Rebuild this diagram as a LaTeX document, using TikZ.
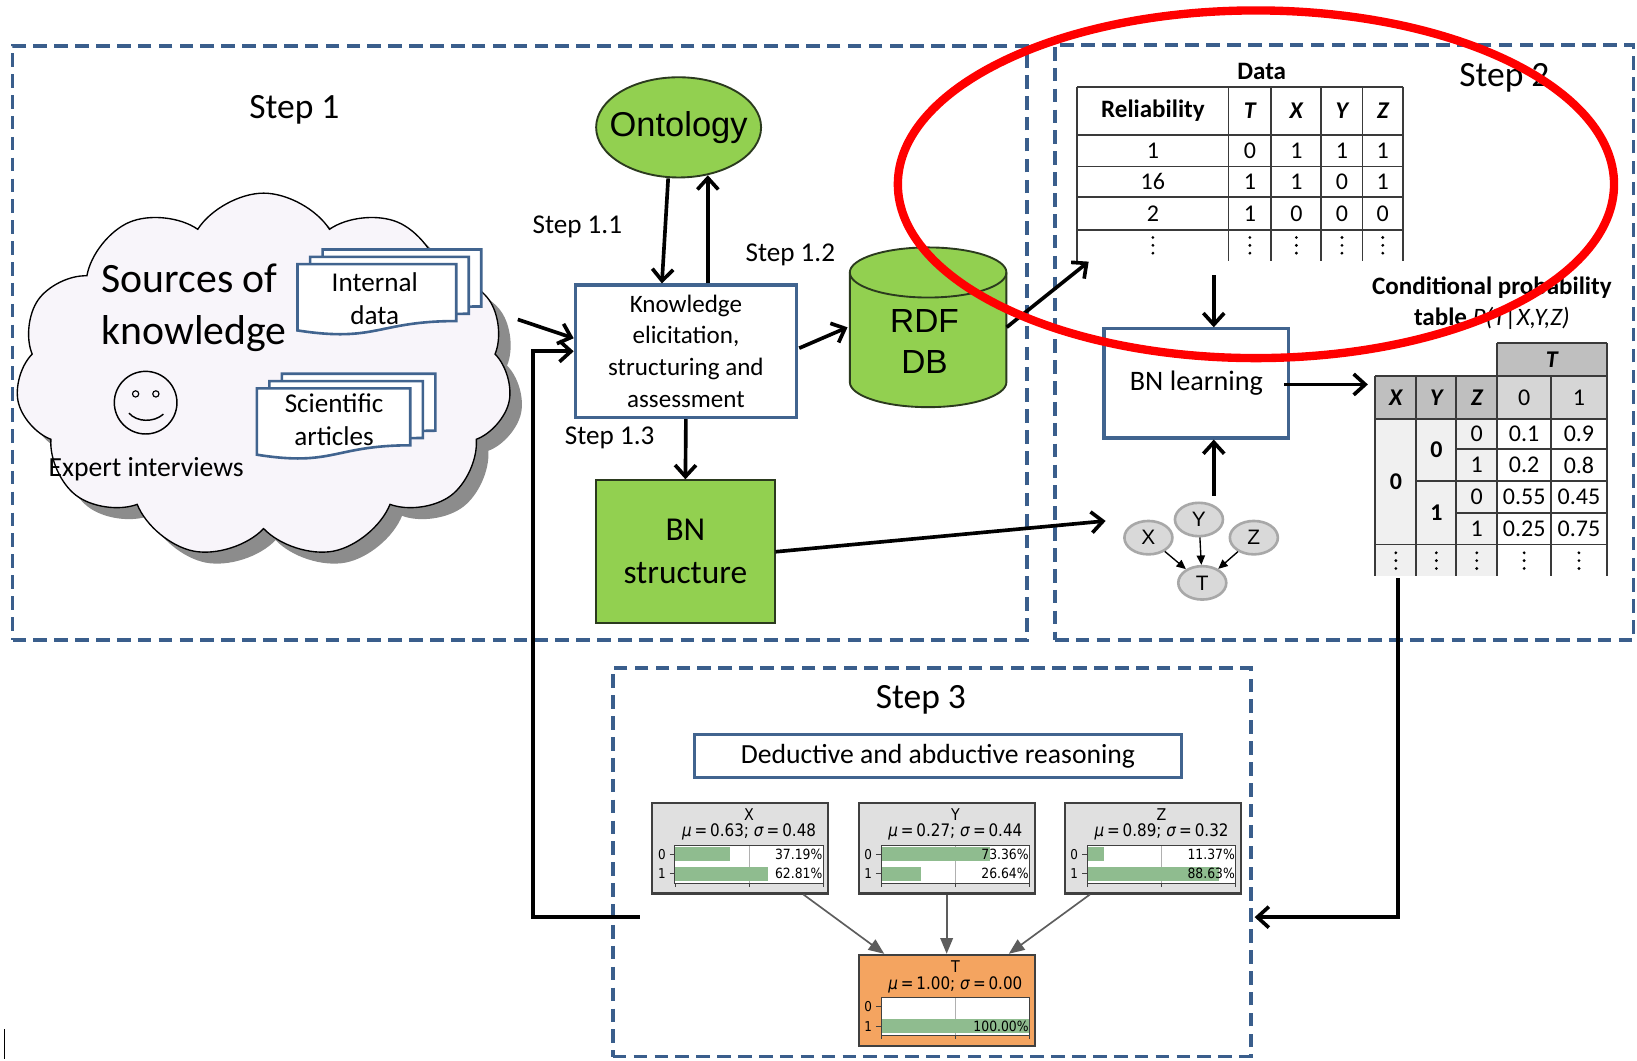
\documentclass[tikz,border=0pt]{standalone}
\usepackage{fontspec}
\setmainfont{Carlito}
\newfontfamily\arialf{Liberation Sans}
\newfontfamily\mplf[FakeStretch=0.88]{DejaVu Sans}
\usetikzlibrary{shapes.symbols,shapes.geometric,arrows.meta,calc}
\definecolor{dashblue}{HTML}{3A5E8C}
\definecolor{boxblue}{HTML}{41648F}
\definecolor{lgreen}{HTML}{92D050}
\definecolor{gborder}{HTML}{2B3A1E}
\definecolor{cloudfill}{HTML}{F8F5FA}
\definecolor{cloudshadow}{HTML}{8C8C8C}
\definecolor{cptdark}{HTML}{BFBFBF}
\definecolor{cptmid}{HTML}{D6D6D6}
\definecolor{cptlight}{HTML}{F0F0F0}
\definecolor{tabline}{HTML}{3A3A3A}
\definecolor{gnode}{HTML}{D9D9D9}
\definecolor{gnodeb}{HTML}{A8A8A8}
\definecolor{pfill}{HTML}{E0E0E0}
\definecolor{pborder}{HTML}{404040}
\definecolor{torange}{HTML}{F4A460}
\definecolor{bargreen}{HTML}{8FBC8F}
\definecolor{gridc}{HTML}{B0B0B0}
\definecolor{redring}{HTML}{FF0000}
\newcommand\fsz[2]{\fontsize{#1}{#2}\selectfont}
\newcommand\drawdoc[4]{%
  \filldraw[docsty] ({#1},{#2}) -- ({#1+#3},{#2}) -- ({#1+#3},{#2+0.802*#4})
    .. controls ({#1+0.5*#3},{#2+0.802*#4}) and ({#1+0.5*#3},{#2+1.107*#4}) .. ({#1},{#2+0.934*#4}) -- cycle;}
\newcommand\docstack[4]{\drawdoc{#1+24}{#2-14}{#3}{#4}\drawdoc{#1+12}{#2-7}{#3}{#4}\drawdoc{#1}{#2}{#3}{#4}}
\newcommand\vdt[2]{\foreach \k in {-1,0,1} {\fill ({#1},{#2+\k*7.5}) circle (1.5pt);}}
% probability node: name, x0, y0, fill, title, mu, sigma, p0, p1
\newcommand\pnode[9]{%
  \node[pbox, fill=#4] (#1) at ({#2+84.25},{#3+43.5}) {};
  \fill[white] ({#2+21.6},{#3+41}) rectangle ({#2+163.6},{#3+77});
  \draw[gridc, line width=0.8pt] ({#2+92.6},{#3+41}) -- ({#2+92.6},{#3+77});
  \fill[bargreen] ({#2+21.6},{#3+42.5}) rectangle ({#2+21.6+1.42*#8},{#3+56.3});
  \fill[bargreen] ({#2+21.6},{#3+61.3}) rectangle ({#2+21.6+1.42*#9},{#3+75.1});
  \draw[pborder, line width=0.9pt] ({#2+21.6},{#3+41}) rectangle ({#2+163.6},{#3+77});
  \draw[pborder, line width=0.8pt] ({#2+16.5},{#3+49.4}) -- ({#2+21.6},{#3+49.4});
  \draw[pborder, line width=0.8pt] ({#2+16.5},{#3+68.2}) -- ({#2+21.6},{#3+68.2});
  \foreach \tx in {21.6,92.6,163.6} {\draw[pborder, line width=0.8pt] ({#2+\tx},{#3+77}) -- ({#2+\tx},{#3+80.5});}
  \node[inner sep=0pt, font=\mplf\fsz{15.5}{17}] (#1title) at ({#2+92.6},{#3+11.5}) {#5};
  \node[inner sep=0pt, font=\mplf\fsz{16.5}{18}] (#1mu) at ({#2+92.6},{#3+28.5}) {\textit{μ}\,=\,#6; \textit{σ}\,=\,#7};
  \node[inner sep=0pt, anchor=east, font=\mplf\fsz{13.5}{15}] (#1pa) at ({#2+163},{#3+49.4}) {\ifdim#8pt>0pt #8\%\fi};
  \node[inner sep=0pt, anchor=east, font=\mplf\fsz{13.5}{15}] (#1pb) at ({#2+163},{#3+68.2}) {#9\%};
  \node[inner sep=0pt, font=\mplf\fsz{13}{15}] (#1la) at ({#2+9},{#3+49.4}) {0};
  \node[inner sep=0pt, font=\mplf\fsz{13}{15}] (#1lb) at ({#2+9},{#3+68.2}) {1};
}
\begin{document}
\begin{tikzpicture}[x=1pt,y=-1pt,
  dashbox/.style={draw=dashblue, line width=3.5pt, dash pattern=on 13pt off 7pt, inner sep=0pt},
  bluebox/.style={draw=boxblue, line width=3pt, fill=white, inner sep=2pt, align=center},
  greensty/.style={fill=lgreen, draw=gborder, line width=1.8pt},
  docsty/.style={fill=white, draw=boxblue, line width=2.5pt},
  arr/.style={line width=3.5pt, -{Straight Barb[length=11pt,width=20pt]}},
  tabl/.style={draw=tabline, line width=1.8pt},
  gn/.style={ellipse, fill=gnode, draw=gnodeb, line width=2.5pt, minimum width=46pt, minimum height=32pt, inner sep=0pt, font=\arialf\fsz{20}{22}},
  sarr/.style={line width=1.3pt, -{Triangle[length=9pt,width=8pt]}},
  pbox/.style={draw=pborder, line width=2pt, minimum width=168.5pt, minimum height=87pt, inner sep=0pt},
  garr/.style={draw=pborder!85, line width=1.6pt, -{Triangle[length=15pt,width=12pt]}},
  lbl/.style={inner sep=0pt},
  cloudsty/.style={cloud, cloud puffs=11, cloud puff arc=115, cloud ignores aspect, minimum width=475pt, minimum height=350pt}
]
\useasboundingbox (0,0) rectangle (1568,1016);
\fill[white] (0,0) rectangle (1568,1016);

% ---------- step boxes ----------
\node[dashbox, minimum width=972pt, minimum height=569pt] (s1) at (498,328.5) {};
\node[dashbox, minimum width=554pt, minimum height=570pt] (s2) at (1287.5,328) {};
\node[dashbox, minimum width=611pt, minimum height=372pt] (s3) at (892.5,826) {};
\node[font=\fsz{34}{40}] (t1) at (282,105) {Step 1};
\node[font=\fsz{34}{40}] (t2) at (1441,75) {Step 2};
\node[font=\fsz{34}{40}] (t3) at (882,670) {Step 3};

% ---------- cloud ----------
\node[cloudsty, fill=cloudshadow] (cloudsh) at (264,371) {};
\node[cloudsty, fill=cloudfill, draw=black, line width=1.3pt] (cloud) at (252.5,360) {};
\node[anchor=west, font=\fsz{40}{50}, align=left, inner sep=0pt] (src) at (97,295) {Sources of\\knowledge};
\docstack{285}{253}{152}{68}
\node[font=\fsz{26}{31}, align=center, inner sep=0pt] (intd) at (359,286) {Internal\\data};
\docstack{246}{372}{147}{68}
\node[font=\fsz{26}{32}, align=center, inner sep=0pt] (scia) at (320,402) {Scientific\\articles};
\node[circle, draw=black, line width=1.4pt, minimum size=60pt, inner sep=0pt] (smile) at (139.5,385.7) {};
\draw[line width=1.1pt] (129.9,377.3) circle (3pt) (149.3,377.3) circle (3pt);
\draw[line width=1.4pt] ($(smile)+(-16,10)$) .. controls ($(smile)+(-8,19)$) and ($(smile)+(8,19)$) .. ($(smile)+(17,11)$);
\node[font=\fsz{26.5}{30}, inner sep=0pt] (expi) at (140,449) {Expert interviews};

% ---------- step 1 boxes ----------
\node[ellipse, greensty, minimum width=158pt, minimum height=96pt, inner sep=0pt] (onto) at (650,122) {};
\node[font=\arialf\fsz{33}{36}, inner sep=0pt] (ontot) at (650,122) {Ontology};
\node[bluebox, minimum width=212pt, minimum height=127pt, font=\fsz{24}{30.5}] (kn) at (657,336.5) {Knowledge\\elicitation,\\structuring and\\assessment};
\node[greensty, minimum width=171pt, minimum height=137pt, align=center, inner sep=0pt, font=\fsz{32}{41}] (bns) at (656.5,528.5) {BN\\structure};
% RDF cylinder
\node[minimum width=150pt, minimum height=153pt, inner sep=0pt] (rdf) at (889,313.5) {};
\filldraw[greensty] (814,261) -- (814,366) arc[start angle=180, end angle=360, x radius=75pt, y radius=24pt] -- (964,261) arc[start angle=0, end angle=180, x radius=75pt, y radius=24pt] -- cycle;
\draw[draw=gborder, line width=1.8pt] (814,261) arc[start angle=180, end angle=360, x radius=75pt, y radius=24pt];
\node[font=\arialf\fsz{32}{39}, align=center, inner sep=0pt] (rdft) at (885.5,327) {RDF\\DB};
\node[font=\fsz{26}{30}, inner sep=0pt] (st11) at (553,217) {Step 1.1};
\node[font=\fsz{26}{30}, inner sep=0pt] (st12) at (757,244) {Step 1.2};
\node[font=\fsz{26}{30}, inner sep=0pt] (st13) at (584,419) {Step 1.3};

% ---------- data table ----------
\node[inner sep=0pt, minimum width=312pt, minimum height=167.4pt] (dtab) at (1188,166.7) {};
\node[font=\bfseries\fsz{24}{28}, inner sep=0pt] (dtitle) at (1208.5,68.6) {Data};
\foreach \yy in {83,129.2,159.5,188.8,220} {\draw[tabl] (1032,\yy) -- (1344,\yy);}
\foreach \xx in {1032,1176.7,1217.6,1265.7,1305,1344} {\draw[tabl] (\xx,83) -- (\xx,250.4);}
\begin{scope}[every node/.style={inner sep=0pt, font=\fsz{23}{26}}]
\node[font=\bfseries\fsz{24}{26}] (hrel) at (1104.3,106) {Reliability};
\node[font=\bfseries\itshape\fsz{23}{26}] (hT) at (1197.2,106) {T};
\node[font=\bfseries\itshape\fsz{23}{26}] (hX) at (1241.7,106) {X};
\node[font=\bfseries\itshape\fsz{23}{26}] (hY) at (1285.4,106) {Y};
\node[font=\bfseries\itshape\fsz{23}{26}] (hZ) at (1324.5,106) {Z};
\foreach \yy/\a/\b/\c/\d/\e [count=\i] in {144.4/1/0/1/1/1, 174.2/16/1/1/0/1, 204.4/2/1/0/0/0} {
  \node (dr\i a) at (1104.3,\yy) {\a};
  \node (dr\i b) at (1197.2,\yy) {\b};
  \node (dr\i c) at (1241.7,\yy) {\c};
  \node (dr\i d) at (1285.4,\yy) {\d};
  \node (dr\i e) at (1324.5,\yy) {\e};
}
\end{scope}
\foreach \xx in {1104.3,1197.2,1241.7,1285.4,1324.5} {\vdt{\xx}{235}}

% ---------- BN learning & small graph ----------
\node[bluebox, minimum width=177pt, minimum height=104.5pt, font=\fsz{27}{30}] (bnl) at (1146,367.25) {BN learning};
\node[gn] (gx) at (1100,515) {X};
\node[gn] (gy) at (1148.4,497.6) {Y};
\node[gn] (gz) at (1201,515) {Z};
\node[gn] (gt) at (1151.6,558.3) {T};
\draw[sarr] (gx) -- (gt);
\draw[sarr] (gy) -- (gt);
\draw[sarr] (gz) -- (gt);
\coordinate (gin) at (1059,499);

% ---------- CPT ----------
\node[font=\bfseries\fsz{24}{28}, inner sep=0pt] (cptt1) at (1429,275.6) {Conditional probability};
\node[font=\bfseries\fsz{24}{28}, inner sep=0pt] (cptt2) at (1429,304.5) {table {\mdseries\itshape P(T|X,Y,Z)}};
\node[inner sep=0pt, minimum width=221.6pt, minimum height=223.3pt] (cpt) at (1428.2,440.25) {};
\fill[cptdark] (1434,328.6) rectangle (1539,360.5);
\fill[cptdark] (1317.4,360.5) rectangle (1434,401.3);
\fill[cptmid] (1434,360.5) rectangle (1539,401.3);
\fill[cptlight] (1317.4,401.3) rectangle (1434,551.9);
\draw[tabl] (1434,328.6) -- (1539,328.6);
\draw[tabl] (1317.4,360.5) -- (1539,360.5);
\draw[tabl] (1317.4,401.3) -- (1539,401.3);
\draw[tabl] (1395,430) -- (1539,430);
\draw[tabl] (1356.6,461) -- (1539,461);
\draw[tabl] (1395,491.3) -- (1539,491.3);
\draw[tabl] (1317.4,521.6) -- (1539,521.6);
\foreach \xx in {1317.4,1356.6,1395,1485.7} {\draw[tabl] (\xx,360.5) -- (\xx,551.9);}
\foreach \xx in {1434,1539} {\draw[tabl] (\xx,328.6) -- (\xx,551.9);}
\begin{scope}[every node/.style={inner sep=0pt, font=\fsz{23}{26}}]
\node[font=\bfseries\itshape\fsz{23}{26}] (cT) at (1486.5,344.5) {T};
\node[font=\bfseries\itshape\fsz{23}{26}] (cX) at (1337,381) {X};
\node[font=\bfseries\itshape\fsz{23}{26}] (cY) at (1375.8,381) {Y};
\node[font=\bfseries\itshape\fsz{23}{26}] (cZ) at (1414.5,381) {Z};
\node (c0) at (1459.9,381) {0};
\node (c1) at (1512.4,381) {1};
\node[font=\bfseries\fsz{23}{26}] (vx0) at (1337,461.5) {0};
\node[font=\bfseries\fsz{23}{26}] (vy0) at (1375.8,431) {0};
\node[font=\bfseries\fsz{23}{26}] (vy1) at (1375.8,491.3) {1};
\foreach \yy/\z/\pa/\pb [count=\i] in {415.6/0/0.1/0.9, 445.5/1/0.2/0.8, 476.1/0/0.55/0.45, 506.5/1/0.25/0.75} {
  \node (cz\i) at (1414.5,\yy) {\z};
  \node (cp\i a) at (1459.9,\yy) {\pa};
  \node (cp\i b) at (1512.4,\yy) {\pb};
}
\end{scope}
\foreach \xx in {1337,1375.8,1414.5,1459.9,1512.4} {\vdt{\xx}{537}}

% ---------- step 3 ----------
\node[bluebox, minimum width=467pt, minimum height=41.5pt, font=\fsz{26.5}{30}] (ded) at (898.4,724.1) {Deductive and abductive reasoning};
\pnode{px}{624.9}{768.8}{pfill}{X}{0.63}{0.48}{37.19}{62.81}
\pnode{py}{822.5}{768.8}{pfill}{Y}{0.27}{0.44}{73.36}{26.64}
\pnode{pz}{1020}{768.8}{pfill}{Z}{0.89}{0.32}{11.37}{88.63}
\pnode{pt}{822.5}{914.6}{torange}{T}{1.00}{0.00}{0}{100.00}
\draw[garr] ($(px.south)+(60.4,0)$) -- ($(pt.north)+(-59.8,0)$);
\draw[garr] (py.south) -- (pt.north);
\draw[garr] ($(pz.south)+(-60.3,0)$) -- ($(pt.north)+(59.5,0)$);

% ---------- connectors ----------
\coordinate (cl1) at (496,306);
\coordinate (fb0) at (612.6,878.5);
\coordinate (fb1) at (510.5,878.5);
\draw[arr] (cl1) -- ($(kn.west)+(0,-12.5)$);
\draw[arr] (fb0) -- (fb1) |- (kn.west);
\draw[arr] ($(onto.south)+(-10,0)$) -- ($(kn.north)+(-23,0)$);
\draw[arr] ($(kn.north)+(21,0)$) -- ($(onto.south)+(28,-3)$);
\draw[arr] ($(kn.east)+(1,-3)$) -- ($(rdf.west)+(-2,0)$);
\draw[arr] (rdf.east) -- ($(dtab.south west)+(11,0)$);
\draw[arr] (kn.south) -- (bns.north);
\draw[arr] (bns.east) -- (gin);
\draw[arr] ($(bnl.north)+(16.6,-50)$) -- ($(bnl.north)+(16.6,0)$);
\draw[arr] ($(bnl.south)+(16.6,54)$) -- ($(bnl.south)+(16.6,0)$);
\draw[arr] ($(bnl.east)+(-6,1)$) -- ($(bnl.east -| cpt.west)+(-7,1)$);
\draw[arr] ($(cpt.south west)+(22,2)$) |- ($(s3.east)+(2,52.5)$);

% stray mark
\draw[line width=1pt] (4,986) -- (4,1014);

% ---------- red ring ----------
\draw[redring, line width=8pt] (1203,176.5) ellipse [x radius=343pt, y radius=166.5pt];
\end{tikzpicture}
\end{document}
